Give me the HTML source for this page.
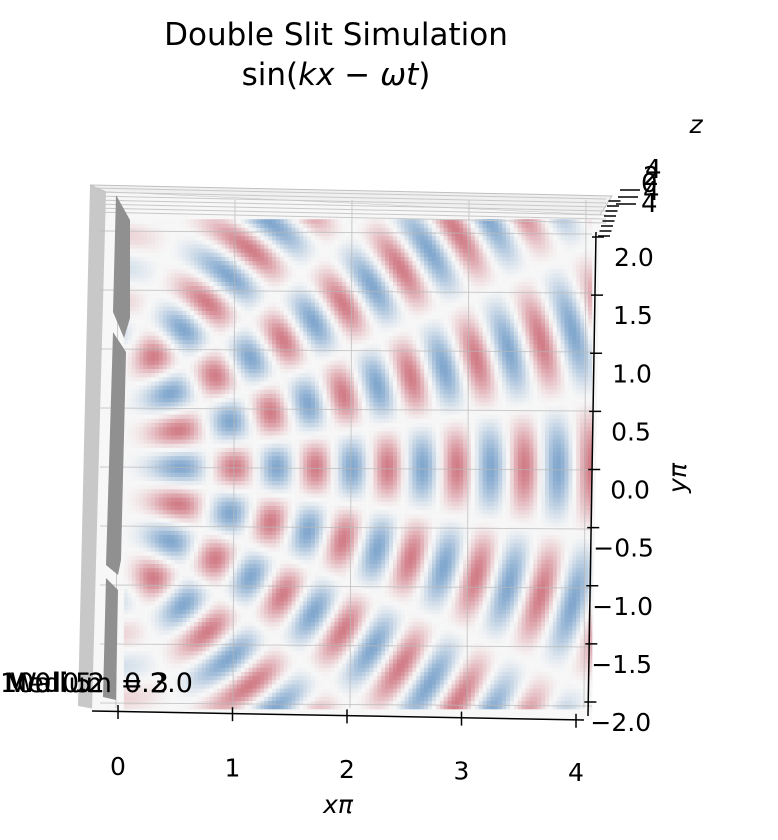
<!DOCTYPE html>
<html><head><meta charset="utf-8">
<style>
html,body{margin:0;padding:0;background:#fff;}
svg{display:block;font-family:"DejaVu Sans","Liberation Sans",sans-serif;}
</style></head>
<body>
<svg id="chart" width="778" height="840" viewBox="0 0 778 840" xmlns="http://www.w3.org/2000/svg">
  <text x="336" y="45" font-size="31" text-anchor="middle">Double Slit Simulation</text>
  <text x="336" y="85" font-size="31" text-anchor="middle">sin(<tspan font-style="italic">kx</tspan> − <tspan font-style="italic">ωt</tspan>)</text>
  <g id="panes">
    <polygon points="90,185 106,192 100,710 78,706" fill="#c8c8c8"/>
    <polygon points="90,185 612,196 600,215 106,192" fill="#f0f0f0" stroke="#c0c0c0"/>
    <polygon points="106,192 600,215 592,720 92,712" fill="#f7f7f7"/>
  </g>
  <g id="surface"></g>
  <g id="grid"></g>
  <g id="barrier">
    <polygon points="116,195 130,220 130,318 124,338 113,312" fill="#909090"/>
    <polygon points="113,332 126,352 121,560 118,575 106,565" fill="#909090"/>
    <polygon points="106,578 118,590 116,700 103,697" fill="#909090"/>
  </g>
  <g id="axes"></g>
  <text x="338" y="813" font-size="25" text-anchor="middle" font-style="italic">xπ</text>
  <text x="686" y="478" font-size="25" text-anchor="middle" font-style="italic" transform="rotate(-90 686 478)">yπ</text>
  <text x="696" y="133" font-size="25" text-anchor="middle" font-style="italic">z</text>
  <g font-size="26" fill="#000">
    <text x="645" y="178">4</text><text x="643" y="185">2</text><text x="641" y="192">0</text><text x="643" y="200">4</text><text x="641" y="212">4</text>
    <path d="M620,190 H640 M618,197 H638 M616,204 H636" stroke="#000" stroke-width="1.5"/>
  </g>
  <g font-size="27" fill="#000">
    <text x="0" y="692">100</text><text x="4" y="692">Medium = 3</text><text x="10" y="692">Wall 5</text><text x="62" y="692">0.2</text><text x="124" y="692">0.2</text><text x="150" y="692">2.0</text>
  </g>
</svg>
<script>
// slit configuration and wave parameters
const slitY = [1.0, -1.0];
const waveK = [11.4];
const wavePhase = [1.94];
const xTicks = [0, 1, 2, 3, 4];
const yTicks = [2.0, 1.5, 1.0, 0.5, 0.0, -0.5, -1.0, -1.5, -2.0];
const yTickLabels = ["2.0", "1.5", "1.0", "0.5", "0.0", "−0.5", "−1.0", "−1.5", "−2.0"];

const NS = "http://www.w3.org/2000/svg";
const sx = x => 118 + x * 117;
const sy = y => 467 - y * 118;
const axX = x => 118 + x * 114.5;
const axY = y => 257 + (2 - y) * 116.25;

function mk(tag, attrs, parent) {
  const e = document.createElementNS(NS, tag);
  for (const k in attrs) e.setAttribute(k, attrs[k]);
  parent.appendChild(e);
  return e;
}
function rdbu(v) {
  const t = Math.pow(Math.min(1, Math.abs(v)), 1.3);
  const red = [178, 24, 43], blue = [33, 102, 172], mid = [247, 247, 247];
  const c = v >= 0 ? red : blue;
  const a = 0.55 * t;
  const r = Math.round(mid[0] * (1 - a) + c[0] * a);
  const g = Math.round(mid[1] * (1 - a) + c[1] * a);
  const b = Math.round(mid[2] * (1 - a) + c[2] * a);
  return `rgb(${r},${g},${b})`;
}

const surf = document.getElementById('surface');
const N = 120, M = 118;
const x0 = 0.05, x1 = 4.05, y0 = -2.05, y1 = 2.1;
const dx = (x1 - x0) / N, dy = (y1 - y0) / M;
for (let i = 0; i < N; i++) {
  for (let j = 0; j < M; j++) {
    const x = x0 + (i + 0.5) * dx, y = y0 + (j + 0.5) * dy;
    let z = 0;
    for (const s of slitY) {
      const r = Math.hypot(x, y - s);
      z += Math.sin(waveK[0] * r - wavePhase[0]);
    }
    z /= slitY.length;
    const px = sx(x0 + i * dx), py = sy(y0 + (j + 1) * dy);
    const el = mk('rect', {x: px.toFixed(2), y: py.toFixed(2), width: (dx * 117 + 0.4).toFixed(2), height: (dy * 118 + 0.4).toFixed(2), fill: rdbu(z)}, surf);
    
    
  }
}

const grid = document.getElementById('grid');
for (const t of xTicks) {
  const l = mk('line', {x1: sx(t), y1: 200, x2: sx(t) - 2, y2: 708, stroke: '#b8b8b8', 'stroke-width': 1, opacity: 0.7}, grid);
  
  
}
for (const t of yTicks) {
  const l = mk('line', {x1: 100, y1: sy(t), x2: 592, y2: sy(t) + 3, stroke: '#b8b8b8', 'stroke-width': 1, opacity: 0.7}, grid);
  
  
}
for (let k = 0; k < 7; k++) {
  const l = mk('line', {x1: 92, y1: 188 + k * 4, x2: 606, y2: 199 + k * 4, stroke: '#c8c8c8', 'stroke-width': 1}, grid);
  
  
}

const axes = document.getElementById('axes');
let ln = mk('line', {x1: 92, y1: 711, x2: 584, y2: 720, stroke: '#000', 'stroke-width': 1.5}, axes);


xTicks.forEach((t) => {
  const X = axX(t), Y = 711 + t * 2.2;
  const tk = mk('line', {x1: X, y1: Y - 6, x2: X, y2: Y + 8, stroke: '#000', 'stroke-width': 1.5}, axes);
  
  
  const tx = mk('text', {x: X, y: 775 + t * 1.5, 'font-size': 25, 'text-anchor': 'middle'}, axes);
  tx.textContent = String(t);
  
  
});
ln = mk('line', {x1: 596, y1: 232, x2: 588, y2: 716, stroke: '#000', 'stroke-width': 1.5}, axes);


yTicks.forEach((t, i) => {
  const Y = axY(t), X = 596 - (2 - t) * 1.9;
  const tk = mk('line', {x1: X - 4, y1: Y - 20, x2: X + 8, y2: Y - 20, stroke: '#000', 'stroke-width': 1.5}, axes);
  
  
  const tx = mk('text', {x: X + (t < 0 ? 2 : 18), y: Y + 9, 'font-size': 25}, axes);
  tx.textContent = yTickLabels[i];
  
  
});
for (let k = 0; k < 8; k++) {
  const tk = mk('line', {x1: 598 + k * 1.5, y1: 236 - k * 5, x2: 610 + k * 1.5, y2: 236 - k * 5, stroke: '#000', 'stroke-width': 1.5}, axes);
  
  
}
</script>
</body></html>
